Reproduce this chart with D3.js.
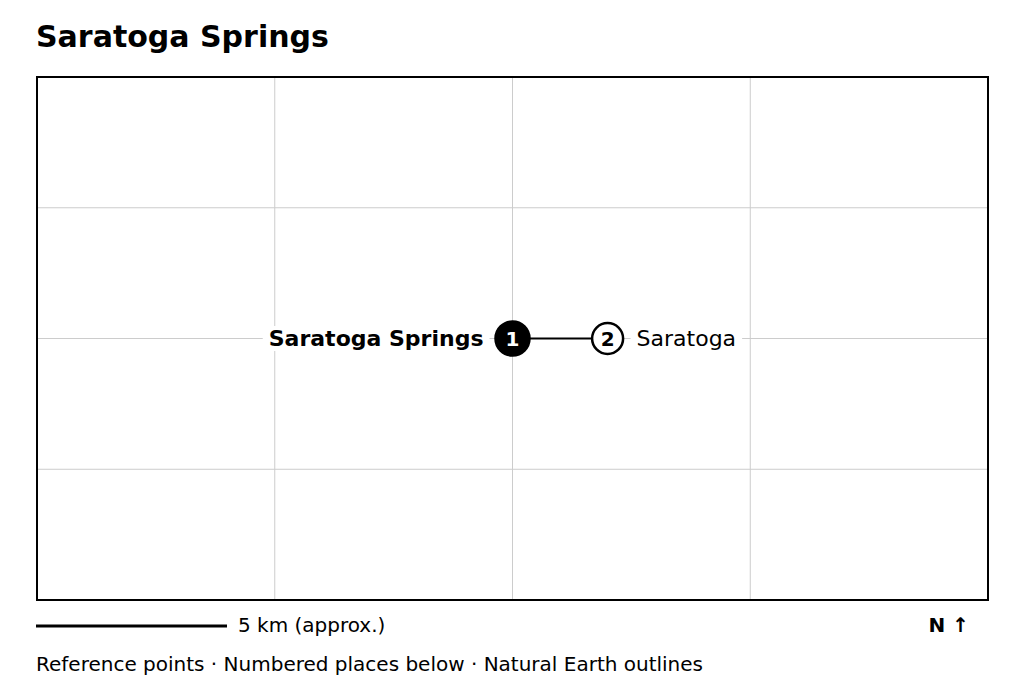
<!DOCTYPE html>
<html><head><meta charset="utf-8">
<script src="https://cdn.jsdelivr.net/npm/d3@7"></script>
<style>body{margin:0;background:#fff}text{font-family:"DejaVu Sans",sans-serif}</style>
</head><body><svg id="c" width="1024" height="692"></svg>
<script>
const places = ["Saratoga Springs", "Saratoga"];
const lon = [0, 0.4];
const lat = [0, 0];
const numbers = [1, 2];
const gridX = [-1, 0, 1];
const gridY = [-1, 0, 1];

const svg = d3.select("#c");
const L = 37, R = 988, T = 77, B = 600;
const x = d3.scaleLinear().domain([-2, 2]).range([L, R]);
const y = d3.scaleLinear().domain([-2, 2]).range([B, T]);

svg.append("text").attr("x", 36).attr("y", 47).attr("font-size", 30).attr("font-weight", "bold").text("Saratoga Springs");

svg.selectAll(".gx").data(gridX).join("line").attr("x1", d => x(d)).attr("x2", d => x(d)).attr("y1", T).attr("y2", B).attr("stroke", "#cccccc");
svg.selectAll(".gy").data(gridY).join("line").attr("y1", d => y(d)).attr("y2", d => y(d)).attr("x1", L).attr("x2", R).attr("stroke", "#cccccc");
svg.append("rect").attr("x", L).attr("y", T).attr("width", R - L).attr("height", B - T).attr("fill", "none").attr("stroke", "#000").attr("stroke-width", 2);

svg.append("line").attr("x1", x(lon[0])).attr("x2", x(lon[1])).attr("y1", y(lat[0])).attr("y2", y(lat[1])).attr("stroke", "#000").attr("stroke-width", 2);

places.forEach((p, i) => {
  const cx = x(lon[i]), cy = y(lat[i]);
  const g = svg.append("g");
  const t = g.append("text").attr("font-size", 22).attr("dominant-baseline", "central").attr("y", cy)
    .attr("font-weight", i === 0 ? "bold" : "normal").text(p);
  if (i === 0) t.attr("x", cx - 29).attr("text-anchor", "end");
  else t.attr("x", cx + 29).attr("text-anchor", "start");
  const bb = t.node().getBBox();
  g.insert("rect", "text").attr("x", bb.x - 6).attr("y", bb.y).attr("width", bb.width + 12).attr("height", bb.height).attr("fill", "#fff");
  svg.append("circle").attr("cx", cx).attr("cy", cy).attr("r", i === 0 ? 17 : 15.5)
    .attr("fill", i === 0 ? "#000" : "#fff").attr("stroke", "#000").attr("stroke-width", 2.5);
  svg.append("text").attr("x", cx).attr("y", cy).attr("text-anchor", "middle").attr("dominant-baseline", "central")
    .attr("font-size", 20).attr("font-weight", "bold").attr("fill", i === 0 ? "#fff" : "#000").text(numbers[i]);
});

svg.append("line").attr("x1", 36).attr("x2", 227).attr("y1", 626).attr("y2", 626).attr("stroke", "#000").attr("stroke-width", 3);
svg.append("text").attr("x", 238).attr("y", 632).attr("font-size", 20).text("5 km (approx.)");
svg.append("text").attr("x", 969).attr("y", 632).attr("font-size", 20).attr("font-weight", "bold").attr("text-anchor", "end").text("N ↑");
svg.append("text").attr("x", 36).attr("y", 671).attr("font-size", 20).text("Reference points · Numbered places below · Natural Earth outlines");
</script></body></html>
